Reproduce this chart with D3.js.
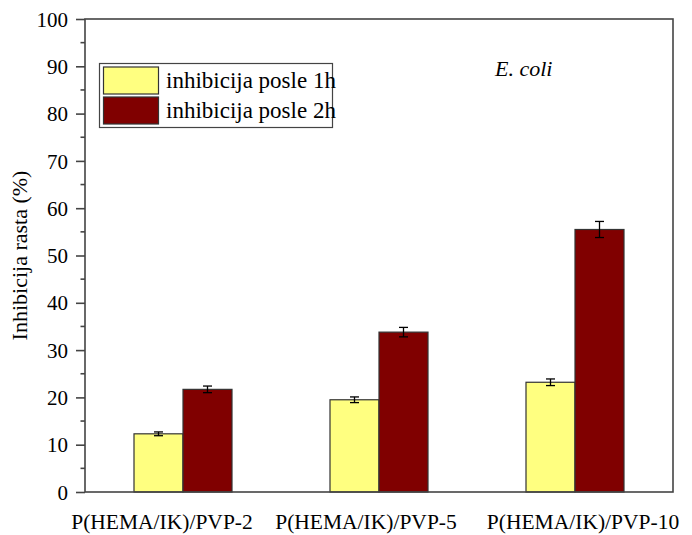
<!DOCTYPE html>
<meta charset="utf-8">
<style>
body { margin: 0; background: #fff; }
</style>
<body>
<svg width="692" height="535"></svg>
<script src="https://d3js.org/d3.v7.min.js"></script>
<script>
var categories = ["P(HEMA/IK)/PVP-2", "P(HEMA/IK)/PVP-5", "P(HEMA/IK)/PVP-10"];
var seriesNames = ["inhibicija posle 1h", "inhibicija posle 2h"];
var after1h = [12.3, 19.5, 23.2];
var after2h = [21.7, 33.8, 55.5];
var err1h = [0.4, 0.6, 0.7];
var err2h = [0.7, 1.0, 1.7];
var yTicks = [0, 10, 20, 30, 40, 50, 60, 70, 80, 90, 100];
var colors = ["#ffff80", "#800000"];
var serif = "'Liberation Serif'";

var svg = d3.select("svg"),
    pLeft = 85, pRight = 673, pTop = 19, pBottom = 492;

var x = d3.scaleBand().domain(categories).range([pLeft, pRight]);
var y = d3.scaleLinear().domain([0, 100]).range([pBottom, pTop]);
var barW = x.bandwidth() / 4;

var series = [after1h, after2h].map(function(vals, s) {
  return categories.map(function(c, i) {
    return {cat: c, s: s, v: vals[i], e: (s ? err2h : err1h)[i]};
  });
});

// bars + error bars
series.forEach(function(data, s) {
  svg.append("g").selectAll("rect")
    .data(data).enter().append("rect")
    .attr("x", function(d) { return x(d.cat) + x.bandwidth() / 2 - barW + s * barW; })
    .attr("y", function(d) { return y(d.v); })
    .attr("width", barW)
    .attr("height", function(d) { return y(0) - y(d.v); })
    .attr("fill", colors[s])
    .attr("stroke", "#333")
    .attr("stroke-width", 1.2);

  function cx(d) { return x(d.cat) + x.bandwidth() / 2 - barW / 2 + s * barW; }
  var eb = svg.append("g").selectAll("g")
    .data(data).enter().append("g")
    .attr("stroke", "#000").attr("stroke-width", 1.3);
  eb.append("line")
    .attr("x1", cx).attr("x2", cx)
    .attr("y1", function(d) { return y(d.v + d.e); })
    .attr("y2", function(d) { return y(d.v - d.e); });
  [1, -1].forEach(function(sg) {
    eb.append("line")
      .attr("x1", function(d) { return cx(d) - 4.5; })
      .attr("x2", function(d) { return cx(d) + 4.5; })
      .attr("y1", function(d) { return y(d.v + sg * d.e); })
      .attr("y2", function(d) { return y(d.v + sg * d.e); });
  });
});

// frame
svg.append("rect")
  .attr("x", pLeft).attr("y", pTop)
  .attr("width", pRight - pLeft).attr("height", pBottom - pTop)
  .attr("fill", "none").attr("stroke", "#444").attr("stroke-width", 1.6);

// y axis
var yAxis = d3.axisLeft(y).tickValues(yTicks).tickSize(9).tickPadding(8);
var gy = svg.append("g").attr("transform", "translate(" + pLeft + ",0)").call(yAxis);
gy.select(".domain").remove();
gy.selectAll(".tick line").attr("stroke", "#444").attr("stroke-width", 1.6);
gy.selectAll(".tick text")
  .style("font-family", serif).style("font-size", "21px")
  .attr("fill", "#000").attr("dy", "0.34em");

var minor = d3.range(5, 100, 10);
svg.append("g").selectAll("line").data(minor).enter().append("line")
  .attr("x1", pLeft - 4.5).attr("x2", pLeft)
  .attr("y1", function(d) { return y(d); }).attr("y2", function(d) { return y(d); })
  .attr("stroke", "#444").attr("stroke-width", 1.6);

// x labels (slight nudges as in the original)
var labelShift = [-21, -13, 8];
svg.append("g").selectAll("text").data(categories).enter().append("text")
  .attr("x", function(d, i) { return x(d) + x.bandwidth() / 2 + labelShift[i]; })
  .attr("y", 529)
  .attr("text-anchor", "middle")
  .style("font-family", serif).style("font-size", "21.5px")
  .text(function(d) { return d; });

// y title
svg.append("text")
  .attr("transform", "translate(27," + ((pTop + pBottom) / 2) + ") rotate(-90)")
  .attr("text-anchor", "middle")
  .style("font-family", serif).style("font-size", "22px")
  .text("Inhibicija rasta (%)");

// E. coli
svg.append("text")
  .attr("x", 495).attr("y", 76)
  .style("font-family", serif).style("font-size", "22px").style("font-style", "italic")
  .text("E. coli");

// legend
var lg = svg.append("g");
lg.append("rect")
  .attr("x", 99.5).attr("y", 63.5).attr("width", 233).attr("height", 64)
  .attr("fill", "#fff").attr("stroke", "#444").attr("stroke-width", 1.2);
seriesNames.forEach(function(n, i) {
  lg.append("rect")
    .attr("x", 103.5).attr("y", 67 + i * 30).attr("width", 55).attr("height", 27)
    .attr("fill", colors[i]).attr("stroke", "#333").attr("stroke-width", 1.2);
  lg.append("text")
    .attr("x", 166).attr("y", 88 + i * 30)
    .style("font-family", serif).style("font-size", "23px")
    .text(n);
});
</script>
</body>
